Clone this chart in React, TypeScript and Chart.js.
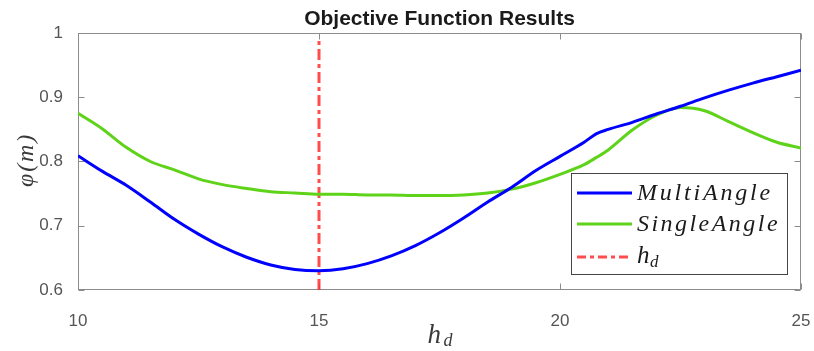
import React, { useEffect, useRef } from "react";
import { Chart, registerables } from "chart.js";

Chart.register(...registerables);

// ---- data ----
const hdValues = [
  10, 10.5, 11, 11.5, 12, 12.5, 13, 13.5, 14, 14.5, 15, 15.5, 16, 16.5, 17, 17.5,
  18, 18.5, 19, 19.5, 20, 20.5, 20.75, 21, 21.5, 22, 22.5, 23, 23.5, 24, 24.5, 25,
];
const multiAngle = [
  0.809, 0.785, 0.763, 0.737, 0.71, 0.687, 0.667, 0.651, 0.639, 0.632, 0.63, 0.633,
  0.641, 0.653, 0.669, 0.689, 0.712, 0.737, 0.76, 0.786, 0.808, 0.83, 0.843, 0.85,
  0.861, 0.874, 0.886, 0.899, 0.911, 0.922, 0.932, 0.942,
];
const singleAngle = [
  0.875, 0.851, 0.822, 0.8, 0.787, 0.773, 0.764, 0.758, 0.753, 0.751, 0.749, 0.749,
  0.748, 0.748, 0.747, 0.747, 0.748, 0.751, 0.757, 0.767, 0.78, 0.795, 0.806, 0.818,
  0.849, 0.872, 0.884, 0.879, 0.862, 0.845, 0.83, 0.821,
];
const hdDesign = 15;
const xTickValues = [10, 15, 20, 25];
const yTickValues = [0.6, 0.7, 0.8, 0.9, 1];
const titleText = "Objective Function Results";
const seriesNames = ["MultiAngle", "SingleAngle"];

const BLUE = "#0000ff";
const GREEN = "#5fd31a";
const RED = "rgba(255,45,45,0.85)";
const FRAME = "#8c8c8c";

function spacedText(ctx: CanvasRenderingContext2D, text: string, x: number, y: number, target: number) {
  (ctx as any).letterSpacing = "0px";
  const w = ctx.measureText(text).width;
  const sp = Math.max(0, (target - w) / text.length);
  (ctx as any).letterSpacing = sp + "px";
  ctx.fillText(text, x, y);
  (ctx as any).letterSpacing = "0px";
}

const decor = {
  id: "decor",
  beforeDatasetsDraw(chart: any) {
    const { ctx, chartArea: a, scales } = chart;
    ctx.save();
    ctx.strokeStyle = FRAME;
    ctx.lineWidth = 1;
    const L = Math.round(a.left) + 0.5;
    const R = Math.round(a.right) - 0.5;
    const T = Math.round(a.top) + 0.5;
    const B = Math.round(a.bottom) - 0.5;
    ctx.strokeRect(L, T, R - L, B - T);
    ctx.beginPath();
    for (const v of xTickValues) {
      const px = Math.round(scales.x.getPixelForValue(v)) + 0.5;
      ctx.moveTo(px, B);
      ctx.lineTo(px, B - 6);
      ctx.moveTo(px, T);
      ctx.lineTo(px, T + 6);
    }
    for (const v of yTickValues) {
      const py = Math.round(scales.y.getPixelForValue(v)) + 0.5;
      ctx.moveTo(L, py);
      ctx.lineTo(L + 6, py);
      ctx.moveTo(R, py);
      ctx.lineTo(R - 6, py);
    }
    ctx.stroke();
    ctx.restore();
  },
  afterDraw(chart: any) {
    const { ctx, chartArea: a } = chart;
    ctx.save();
    // title
    ctx.fillStyle = "#1a1a1a";
    ctx.font = "bold 21px 'Liberation Sans', Arial, sans-serif";
    ctx.textAlign = "center";
    ctx.textBaseline = "alphabetic";
    ctx.fillText(titleText, (a.left + a.right) / 2, 25);

    // x axis label h_d
    ctx.fillStyle = "#3a3a3a";
    ctx.textAlign = "left";
    ctx.font = "italic 27px 'Liberation Serif', serif";
    const cx = (a.left + a.right) / 2;
    ctx.fillText("h", cx - 12, 343);
    ctx.font = "italic 18px 'Liberation Serif', serif";
    ctx.fillText("d", cx + 4, 346);

    // y axis label phi(m)
    ctx.save();
    ctx.translate(33, 160);
    ctx.rotate(-Math.PI / 2);
    ctx.textAlign = "center";
    ctx.font = "italic 24px 'Liberation Serif', serif";
    spacedText(ctx, "\u03C6(m)", 0, 0, 54);
    ctx.restore();

    // legend
    const bx = 571.5, by = 173.5, bw = 216, bh = 101;
    ctx.fillStyle = "#ffffff";
    ctx.fillRect(bx, by, bw, bh);
    ctx.strokeStyle = "#444";
    ctx.lineWidth = 1;
    ctx.strokeRect(bx, by, bw, bh);
    const rows = [193, 224, 257];
    const cols = [BLUE, GREEN];
    const targets = [136, 143];
    ctx.textAlign = "left";
    for (let i = 0; i < 2; i++) {
      ctx.strokeStyle = cols[i];
      ctx.lineWidth = 3;
      ctx.beginPath();
      ctx.moveTo(577, rows[i]);
      ctx.lineTo(632, rows[i]);
      ctx.stroke();
      ctx.fillStyle = "#1a1a1a";
      ctx.font = "italic 24px 'Liberation Serif', serif";
      spacedText(ctx, seriesNames[i], 637, rows[i] + 7, targets[i]);
    }
    ctx.strokeStyle = RED;
    ctx.lineWidth = 3;
    ctx.setLineDash([9, 4, 4, 4]);
    ctx.beginPath();
    ctx.moveTo(577, rows[2]);
    ctx.lineTo(632, rows[2]);
    ctx.stroke();
    ctx.setLineDash([]);
    ctx.fillStyle = "#1a1a1a";
    ctx.font = "italic 25px 'Liberation Serif', serif";
    ctx.fillText("h", 637, rows[2] + 6);
    ctx.font = "italic 17px 'Liberation Serif', serif";
    ctx.fillText("d", 650, rows[2] + 10);
    ctx.restore();
  },
};

export default function App() {
  const ref = useRef<HTMLCanvasElement | null>(null);
  useEffect(() => {
    document.body.style.margin = "0";
    const canvas = ref.current;
    if (!canvas) return;
    const chart = new Chart(canvas, {
      type: "line",
      data: {
        datasets: [
          {
            label: seriesNames[0],
            data: hdValues.map((x, i) => ({ x, y: multiAngle[i] })),
            borderColor: BLUE,
            borderWidth: 3,
            pointRadius: 0,
            cubicInterpolationMode: "monotone",
            fill: false,
          },
          {
            label: seriesNames[1],
            data: hdValues.map((x, i) => ({ x, y: singleAngle[i] })),
            borderColor: GREEN,
            borderWidth: 3,
            pointRadius: 0,
            cubicInterpolationMode: "monotone",
            fill: false,
          },
          {
            label: "hd",
            data: [
              { x: hdDesign, y: 0.6 },
              { x: hdDesign, y: 0.993 },
            ],
            borderColor: RED,
            borderWidth: 3,
            borderDash: [11, 4, 4, 4],
            pointRadius: 0,
            fill: false,
          },
        ],
      },
      options: {
        responsive: false,
        animation: false,
        devicePixelRatio: 1,
        layout: { padding: { top: 33, right: 13, left: 0, bottom: 0 } },
        plugins: { legend: { display: false }, title: { display: false }, tooltip: { enabled: false } },
        scales: {
          x: {
            type: "linear",
            min: 10,
            max: 25,
            afterBuildTicks: (s: any) => {
              s.ticks = xTickValues.map((v) => ({ value: v }));
            },
            afterFit: (s: any) => {
              s.height = 61;
              s.paddingLeft = 0;
              s.paddingRight = 0;
            },
            grid: { display: false },
            border: { display: false },
            ticks: {
              padding: 13,
              color: "#555555",
              font: { family: "'Liberation Sans', Arial, sans-serif", size: 17 },
              maxRotation: 0,
              callback: (v: any) => String(v),
            },
          },
          y: {
            type: "linear",
            min: 0.6,
            max: 1,
            afterBuildTicks: (s: any) => {
              s.ticks = yTickValues.map((v) => ({ value: v }));
            },
            afterFit: (s: any) => {
              s.width = 78;
              s.paddingTop = 0;
              s.paddingBottom = 0;
            },
            grid: { display: false },
            border: { display: false },
            ticks: {
              padding: 7,
              color: "#555555",
              font: { family: "'Liberation Sans', Arial, sans-serif", size: 17 },
              callback: (v: any) => String(+Number(v).toFixed(1)),
            },
          },
        },
      },
      plugins: [decor],
    } as any);
    return () => chart.destroy();
  }, []);
  return <canvas ref={ref} width={814} height={351} style={{ display: "block" }} />;
}
